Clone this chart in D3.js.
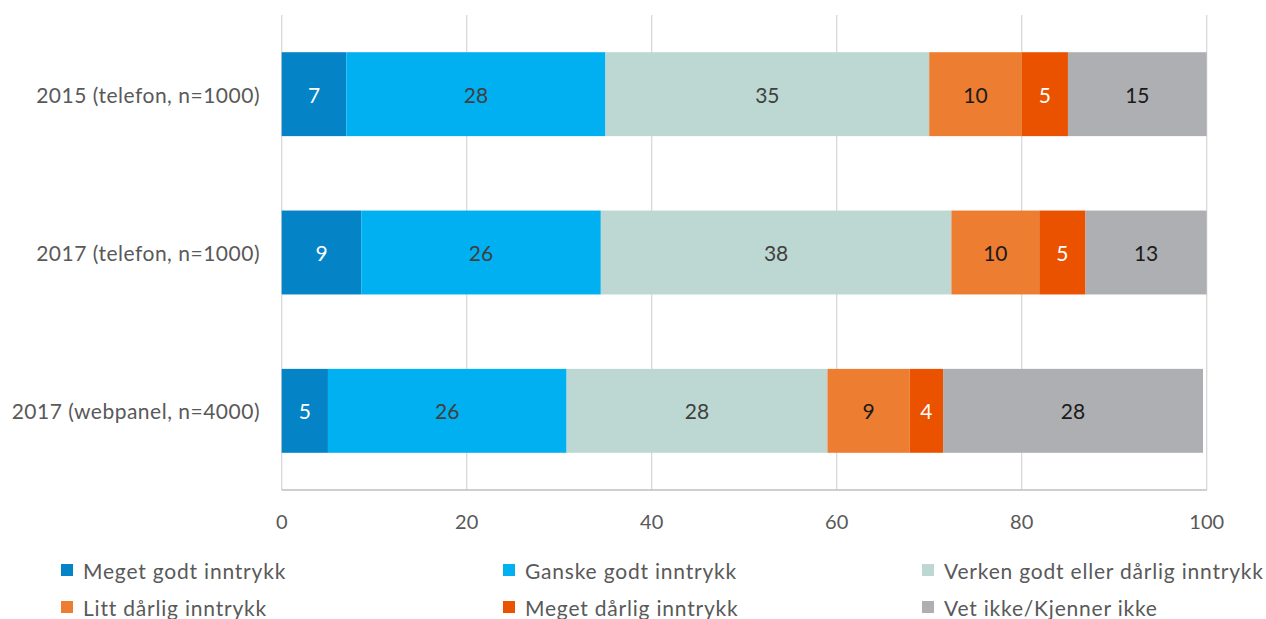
<!DOCTYPE html>
<html>
<head>
<meta charset="utf-8">
<script src="https://cdn.jsdelivr.net/npm/d3@7"></script>
<style>
  html, body { margin: 0; padding: 0; background: #fff; }
  svg { display: block; font-family: Lato, "Open Sans", sans-serif; }
</style>
</head>
<body>
<svg id="chart" width="1266" height="619"></svg>
<script>
const categories = ["2015 (telefon, n=1000)", "2017 (telefon, n=1000)", "2017 (webpanel, n=4000)"];
const seriesNames = ["Meget godt inntrykk", "Ganske godt inntrykk", "Verken godt eller dårlig inntrykk",
                     "Litt dårlig inntrykk", "Meget dårlig inntrykk", "Vet ikke/Kjenner ikke"];
const megetGodt   = [7, 8.6, 5.0];
const ganskeGodt  = [28, 25.9, 25.8];
const verken      = [35, 37.9, 28.2];
const littDarlig  = [10, 9.5, 8.9];
const megetDarlig = [5, 5.0, 3.6];
const vetIkke     = [15, 13.1, 28.1];
const xTicks = [0, 20, 40, 60, 80, 100];

const colors = ["#0583C7", "#00B0F0", "#BDD8D2", "#ED7D31", "#EB5200", "#AEAFB2"];
const labelColors = ["#ffffff", "#404040", "#404040", "#1a1a1a", "#ffffff", "#1a1a1a"];

const seriesValues = [megetGodt, ganskeGodt, verken, littDarlig, megetDarlig, vetIkke];
const table = categories.map((c, i) => {
  const row = { category: c };
  seriesNames.forEach((s, j) => row[s] = seriesValues[j][i]);
  return row;
});
const stacked = d3.stack().keys(seriesNames)(table);

const svg = d3.select("#chart");
const pLeft = 281.7, pRight = 1206.7, pTop = 15, pBottom = 490;

const x = d3.scaleLinear().domain([0, 100]).range([pLeft, pRight]);
const y = d3.scaleBand().domain(categories).range([pTop, pBottom])
  .paddingInner(0.47).paddingOuter(0.235);

// gridlines
svg.append("g").selectAll("line").data(xTicks).join("line")
  .attr("x1", d => x(d)).attr("x2", d => x(d))
  .attr("y1", pTop).attr("y2", pBottom)
  .attr("stroke", "#d9d9d9").attr("stroke-width", 1.3);

// x axis line
svg.append("line").attr("x1", pLeft).attr("x2", pRight)
  .attr("y1", pBottom).attr("y2", pBottom)
  .attr("stroke", "#bfbfbf").attr("stroke-width", 1.3);

// bars
const layers = svg.append("g").selectAll("g").data(stacked).join("g")
  .attr("fill", (d, i) => colors[i]);
layers.selectAll("rect").data(d => d).join("rect")
  .attr("x", d => x(d[0]))
  .attr("width", d => x(d[1]) - x(d[0]))
  .attr("y", d => y(d.data.category))
  .attr("height", y.bandwidth());

// bar labels
const lab = svg.append("g").selectAll("g").data(stacked).join("g")
  .attr("fill", (d, i) => labelColors[i]);
lab.selectAll("text").data(d => d).join("text")
  .attr("x", d => (x(d[0]) + x(d[1])) / 2)
  .attr("y", d => y(d.data.category) + y.bandwidth() / 2)
  .attr("text-anchor", "middle")
  .attr("dominant-baseline", "central")
  .attr("font-size", 21)
  .text(d => Math.round(d[1] - d[0]));

// category labels
svg.append("g").selectAll("text").data(categories).join("text")
  .attr("x", 260)
  .attr("y", d => y(d) + y.bandwidth() / 2)
  .attr("text-anchor", "end")
  .attr("dominant-baseline", "central")
  .attr("font-size", 21)
  .attr("letter-spacing", 0.5)
  .attr("fill", "#595959")
  .text(d => d);

// tick labels
svg.append("g").selectAll("text").data(xTicks).join("text")
  .attr("x", d => x(d))
  .attr("y", 521)
  .attr("text-anchor", "middle")
  .attr("dominant-baseline", "central")
  .attr("font-size", 20)
  .attr("fill", "#595959")
  .text(d => d);

// legend
const legX = [61, 503, 922], legY = [570, 607];
const leg = svg.append("g").selectAll("g").data(seriesNames).join("g")
  .attr("transform", (d, i) => `translate(${legX[i % 3]},${legY[Math.floor(i / 3)]})`);
leg.append("rect").attr("x", 0).attr("y", -6).attr("width", 12).attr("height", 12)
  .attr("fill", (d, i) => colors[i]);
leg.append("text").attr("x", 22).attr("y", 0)
  .attr("dominant-baseline", "central")
  .attr("font-size", 21)
  .attr("letter-spacing", 0.8)
  .attr("fill", "#595959")
  .text(d => d);
</script>
</body>
</html>
